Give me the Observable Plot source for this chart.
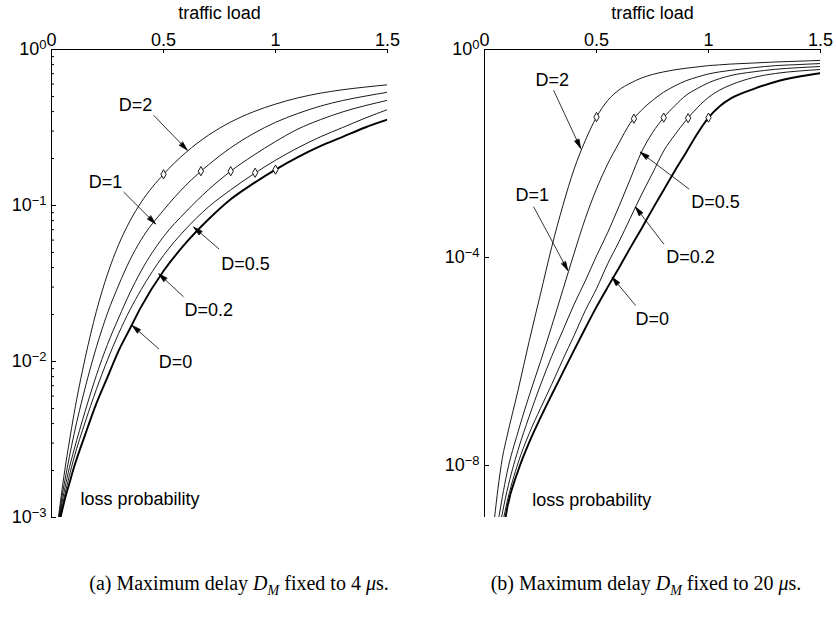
<!DOCTYPE html>
<html><head><meta charset="utf-8">
<script src="https://cdn.jsdelivr.net/npm/d3@7"></script>
<script src="https://cdn.jsdelivr.net/npm/@observablehq/plot@0.6"></script>
<style>
body{margin:0;background:#fff;}
#wrap{position:relative;width:836px;height:625px;overflow:hidden;background:#fff;}
.panel{position:absolute;top:0;}
.cap{position:absolute;top:573px;width:440px;text-align:center;font-family:"Liberation Serif","Times New Roman",serif;font-size:20px;line-height:20px;white-space:nowrap;color:#000;}
.cap sub{font-size:14px;vertical-align:-5px;line-height:0;}
</style></head><body><div id="wrap"></div>
<script>
// ---------- shared ----------
const delays = ["2", "1", "0.5", "0.2", "0"];
const xTicks = [0, 0.5, 1, 1.5];
const markLoad = [0.5, 0.667, 0.8, 0.909, 1.0];

// ---------- panel (a): D_M = 4 us, loss probability as log10 exponents ----------
const loadGridA = [0.05,0.06,0.08,0.1,0.15,0.2,0.25,0.3,0.35,0.4,0.5,0.6,0.7,0.8,0.9,1.0,1.1,1.2,1.3,1.4,1.5];
const startLoadA = [0.031, 0.033, 0.035, 0.037, 0.04]; // load where each curve leaves 1e-3
const expA_D2  = [-2.79,-2.69,-2.51,-2.34,-1.98,-1.68,-1.44,-1.25,-1.10,-0.98,-0.80,-0.66,-0.55,-0.465,-0.40,-0.35,-0.31,-0.28,-0.258,-0.241,-0.226];
const expA_D1  = [-2.84,-2.76,-2.61,-2.47,-2.17,-1.91,-1.69,-1.51,-1.35,-1.22,-1.03,-0.87,-0.74,-0.63,-0.54,-0.467,-0.41,-0.363,-0.327,-0.299,-0.274];
const expA_D05 = [-2.88,-2.81,-2.68,-2.57,-2.32,-2.09,-1.89,-1.72,-1.56,-1.42,-1.20,-1.04,-0.90,-0.78,-0.68,-0.59,-0.51,-0.45,-0.40,-0.36,-0.326];
const expA_D02 = [-2.91,-2.85,-2.73,-2.62,-2.39,-2.18,-1.99,-1.82,-1.67,-1.54,-1.32,-1.15,-1.01,-0.90,-0.80,-0.71,-0.63,-0.56,-0.50,-0.44,-0.385];
const expA_D0  = [-2.94,-2.88,-2.78,-2.68,-2.47,-2.27,-2.10,-1.93,-1.79,-1.65,-1.42,-1.24,-1.09,-0.96,-0.86,-0.77,-0.69,-0.62,-0.56,-0.50,-0.45];
const markExpA = [-0.80,-0.78,-0.78,-0.79,-0.77];
const yMajorA = [1, 1e-1, 1e-2, 1e-3];
const labelA = [
  {t:"D=2", x:0.375, e:-0.359}, {t:"D=1", x:0.241, e:-0.85}, {t:"D=0.5", x:0.866, e:-1.374},
  {t:"D=0.2", x:0.702, e:-1.673}, {t:"D=0", x:0.554, e:-2.004}
];
const arrowA = [
  {x1:0.457,e1:-0.423,x2:0.606,e2:-0.645}, {x1:0.323,e1:-0.915,x2:0.464,e2:-1.117},
  {x1:0.747,e1:-1.278,x2:0.635,e2:-1.139}, {x1:0.588,e1:-1.583,x2:0.479,e2:-1.438},
  {x1:0.479,e1:-1.919,x2:0.36,e2:-1.769}
];
const lossTextA = {x:0.129, e:-2.88};

// ---------- panel (b): D_M = 20 us ----------
const loadGridB = [0.1,0.15,0.2,0.25,0.3,0.35,0.4,0.45,0.5,0.55,0.6,0.65,0.7,0.75,0.8,0.85,0.9,0.95,1.0,1.05,1.1,1.2,1.3,1.4,1.5];
const lowLoadB = [[0.045,0.06,0.08],[0.064,0.08],[0.076],[0.086],[0.094]];
const lowExpB  = [[-9,-8.45,-7.85],[-9,-8.6],[-9],[-9],[-9]];
const expB_D2  = [-7.45,-6.55,-5.6,-4.7,-3.8,-3.0,-2.3,-1.75,-1.3,-0.98,-0.78,-0.65,-0.55,-0.48,-0.43,-0.39,-0.36,-0.335,-0.31,-0.295,-0.28,-0.26,-0.24,-0.225,-0.21];
const expB_D1  = [-8.15,-7.35,-6.65,-6.0,-5.32,-4.62,-3.92,-3.25,-2.68,-2.2,-1.8,-1.42,-1.17,-0.98,-0.82,-0.7,-0.6,-0.53,-0.47,-0.43,-0.4,-0.35,-0.31,-0.29,-0.27];
const expB_D05 = [-8.5,-7.7,-7.05,-6.45,-5.9,-5.4,-4.9,-4.45,-3.97,-3.52,-3.02,-2.5,-1.98,-1.6,-1.31,-1.08,-0.88,-0.75,-0.64,-0.56,-0.5,-0.43,-0.38,-0.35,-0.327];
const expB_D02 = [-8.72,-7.95,-7.38,-6.9,-6.44,-5.96,-5.5,-5.02,-4.6,-4.12,-3.7,-3.25,-2.8,-2.38,-1.95,-1.64,-1.36,-1.12,-0.92,-0.78,-0.68,-0.54,-0.46,-0.415,-0.385];
const expB_D0  = [-8.85,-8.1,-7.55,-7.08,-6.64,-6.21,-5.78,-5.36,-4.95,-4.57,-4.2,-3.82,-3.45,-3.07,-2.7,-2.33,-1.98,-1.62,-1.31,-1.09,-0.94,-0.76,-0.62,-0.525,-0.455];
const markExpB = [-1.30,-1.33,-1.31,-1.32,-1.31];
const yMajorB = [1, 1e-4, 1e-8];
const labelB = [
  {t:"D=2", x:0.302, e:-0.596}, {t:"D=1", x:0.213, e:-2.81}, {t:"D=0.5", x:1.031, e:-2.94},
  {t:"D=0.2", x:0.92, e:-3.99}, {t:"D=0", x:0.749, e:-5.18}
];
const arrowB = [
  {x1:0.309,e1:-0.79,x2:0.429,e2:-1.9}, {x1:0.22,e1:-3.03,x2:0.372,e2:-4.25},
  {x1:0.912,e1:-2.68,x2:0.696,e2:-1.975}, {x1:0.80,e1:-3.74,x2:0.674,e2:-3.03},
  {x1:0.674,e1:-4.92,x2:0.57,e2:-4.38}
];
const lossTextB = {x:0.213, e:-8.67};

// ---------- build rows ----------
function rowsA() {
  const exps = [expA_D2, expA_D1, expA_D05, expA_D02, expA_D0];
  const out = [];
  delays.forEach((D, i) => {
    out.push({D, load: startLoadA[i], loss: 1e-3});
    loadGridA.forEach((x, j) => out.push({D, load: x, loss: Math.pow(10, exps[i][j])}));
  });
  return out;
}
function rowsB() {
  const exps = [expB_D2, expB_D1, expB_D05, expB_D02, expB_D0];
  const out = [];
  delays.forEach((D, i) => {
    lowLoadB[i].forEach((x, j) => out.push({D, load: x, loss: Math.pow(10, lowExpB[i][j])}));
    loadGridB.forEach((x, j) => out.push({D, load: x, loss: Math.pow(10, exps[i][j])}));
  });
  return out;
}
function minorTicks(lo, hi) {
  const t = [];
  for (let k = lo; k < hi; k++) for (let m = 2; m <= 9; m++) t.push(m * Math.pow(10, k));
  return t;
}

const W = 418, H = 540, MT = 49, MB = 23;
const FONT = "'Liberation Sans', Arial, Helvetica, sans-serif";

function panel({rows, yDomain, majors, minors, marksExp, labels, arrows, lossText, mL, mR}) {
  const pw = W - mL - mR, ph = H - MT - MB;
  const thin = rows.filter(d => d.D !== "0");
  const thick = rows.filter(d => d.D === "0");
  const dots = markLoad.map((x, i) => ({load: x, loss: Math.pow(10, marksExp[i])}));
  const p = Plot.plot({
    width: W, height: H, marginLeft: mL, marginRight: mR, marginTop: MT, marginBottom: MB,
    x: {domain: [0, 1.5], axis: null},
    y: {type: "log", domain: yDomain, axis: null},
    style: {fontFamily: FONT, fontSize: "18px", background: "white", color: "black", overflow: "visible"},
    marks: [
      Plot.ruleY([yDomain[1]], {stroke: "black", strokeWidth: 1}),
      Plot.ruleX([0], {stroke: "black", strokeWidth: 1}),
      Plot.ruleX(xTicks, {stroke: "black", strokeWidth: 1, insetBottom: ph - 4}),
      Plot.ruleY(majors, {stroke: "black", strokeWidth: 1, insetRight: pw - 5}),
      Plot.ruleY(minors, {stroke: "black", strokeWidth: 1, insetRight: pw - 3}),
      Plot.text(xTicks, {x: d => d, frameAnchor: "top", lineAnchor: "bottom", dy: -4, text: d => String(d), fontSize: 18, fill: "black"}),
      Plot.text(majors, {y: d => d, frameAnchor: "left", textAnchor: "end", dx: -5, fontSize: 18, fill: "black",
        text: d => { const e = Math.round(Math.log10(d)); return "10|" + (e < 0 ? "\u2212" + (-e) : String(e)); }}),
      Plot.text(["traffic load"], {frameAnchor: "top", lineAnchor: "bottom", dy: -31, text: d => d, fontSize: 18, fill: "black"}),
      Plot.line(thin, {x: "load", y: "loss", z: "D", curve: "monotone-x", stroke: "black", strokeWidth: 0.9, clip: true}),
      Plot.line(thick, {x: "load", y: "loss", curve: "monotone-x", stroke: "black", strokeWidth: 1.9, clip: true}),
      Plot.dot(dots, {x: "load", y: "loss", symbol: "diamond", r: 2.8, fill: "white", stroke: "black", strokeWidth: 0.9}),
      Plot.arrow(arrows, {x1: "x1", y1: d => Math.pow(10, d.e1), x2: "x2", y2: d => Math.pow(10, d.e2),
        stroke: "black", strokeWidth: 0.8, headLength: 17, headAngle: 30}),
      Plot.text(labels, {x: "x", y: d => Math.pow(10, d.e), text: "t", fontSize: 18, fill: "black"}),
      Plot.text([lossText], {x: "x", y: d => Math.pow(10, d.e), text: () => "loss probability", textAnchor: "start", fontSize: 18, fill: "black"})
    ]
  });
  const ns = "http://www.w3.org/2000/svg";
  p.querySelectorAll("text").forEach(t => {
    if (t.children.length || t.textContent.indexOf("|") < 0) return;
    const parts = t.textContent.split("|");
    t.textContent = parts[0];
    const ts = document.createElementNS(ns, "tspan");
    ts.setAttribute("dy", "-0.45em");
    ts.setAttribute("font-size", "13");
    ts.textContent = parts[1];
    t.appendChild(ts);
  });
  // filled arrowheads: close the wing sub-path into a triangle
  p.querySelectorAll('g[aria-label="arrow"] path').forEach(path => {
    const d = path.getAttribute("d");
    if (d && !/Z$/i.test(d)) path.setAttribute("d", d + "Z");
    path.setAttribute("fill", "black");
  });
  return p;
}

const wrap = document.getElementById("wrap");
const pa = panel({rows: rowsA(), yDomain: [1e-3, 1], majors: yMajorA, minors: minorTicks(-3, 0),
  marksExp: markExpA, labels: labelA, arrows: arrowA, lossText: lossTextA, mL: 51, mR: 31});
const pb = panel({rows: rowsB(), yDomain: [1e-9, 1], majors: yMajorB, minors: [],
  marksExp: markExpB, labels: labelB, arrows: arrowB, lossText: lossTextB, mL: 66, mR: 16});
const da = document.createElement("div"); da.className = "panel"; da.style.left = "0px"; da.appendChild(pa);
const db = document.createElement("div"); db.className = "panel"; db.style.left = "418px"; db.appendChild(pb);
wrap.appendChild(da); wrap.appendChild(db);

const ca = document.createElement("div"); ca.className = "cap"; ca.style.left = "19px";
ca.innerHTML = "(a) Maximum delay <i>D<sub>M</sub></i> fixed to 4 <i>\u03bc</i>s.";
const cb = document.createElement("div"); cb.className = "cap"; cb.style.left = "426px";
cb.innerHTML = "(b) Maximum delay <i>D<sub>M</sub></i> fixed to 20 <i>\u03bc</i>s.";
wrap.appendChild(ca); wrap.appendChild(cb);
</script></body></html>
